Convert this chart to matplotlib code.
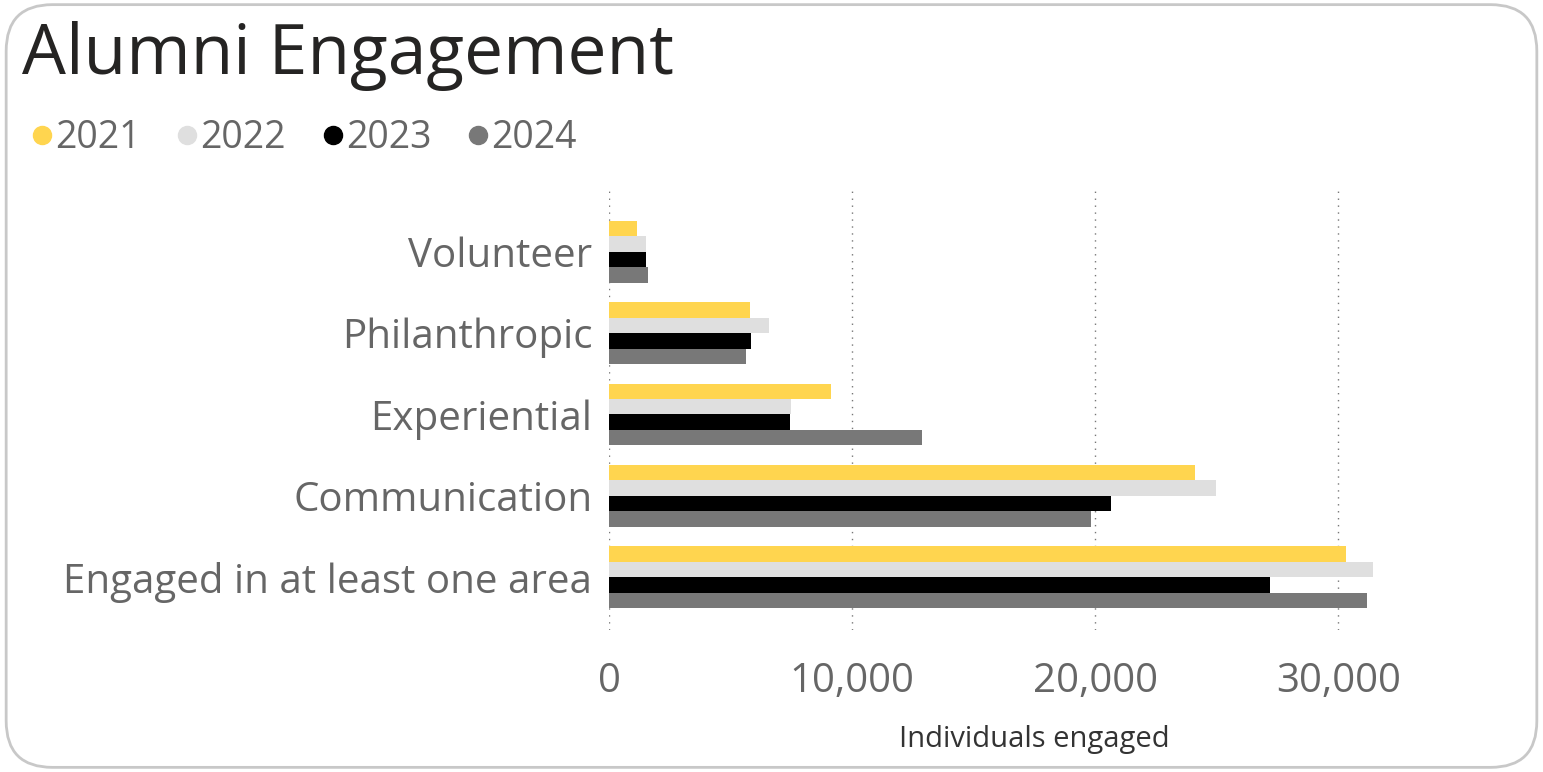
import matplotlib.pyplot as plt
from matplotlib.lines import Line2D
from matplotlib.patches import FancyBboxPatch
from matplotlib.ticker import FuncFormatter
import numpy as np

plt.rcParams['font.family'] = ['Open Sans', 'DejaVu Sans']

# categories, bottom to top
categories = ["Engaged in at least one area", "Communication", "Experiential",
              "Philanthropic", "Volunteer"]
years = ["2021", "2022", "2023", "2024"]
colors = ["#FFD54F", "#DFDFDF", "#000000", "#787878"]

# values per year, same order as categories
v2021 = [30320, 24100, 9130, 5800, 1150]
v2022 = [31430, 24970, 7490, 6580, 1520]
v2023 = [27190, 20650, 7450, 5840, 1520]
v2024 = [31180, 19830, 12880, 5640, 1600]
series = [v2021, v2022, v2023, v2024]

fig = plt.figure(figsize=(15.43, 7.72), dpi=100)

# rounded card border
card = FancyBboxPatch((0.004, 0.006), 0.992, 0.988,
                      boxstyle="round,pad=0,rounding_size=0.03",
                      transform=fig.transFigure, facecolor="white",
                      edgecolor="#C8C8C8", linewidth=2, zorder=-1,
                      mutation_aspect=2.0)
fig.patches.append(card)

ax = fig.add_axes([609 / 1543, 1 - 630 / 772, (1460 - 609) / 1543, 440 / 772])
ax.set_facecolor("none")

y = np.arange(len(categories))
h = 0.19
for i, (vals, col, yr) in enumerate(zip(series, colors, years)):
    # 2021 on top of each group
    ax.barh(y + (1.5 - i) * h, vals, height=h, color=col, label=yr, zorder=2)

ax.set_xlim(0, 35000)
ax.set_ylim(-0.65, 4.76)
ax.set_xticks([0, 10000, 20000, 30000])
ax.xaxis.set_major_formatter(FuncFormatter(lambda v, p: f"{int(v):,}"))
ax.set_yticks(y)
ax.set_yticklabels(categories)
ax.tick_params(axis="both", length=0, labelsize=29, labelcolor="#666666")
ax.tick_params(axis="x", pad=23)
ax.tick_params(axis="y", pad=12)
for s in ax.spines.values():
    s.set_visible(False)
ax.grid(axis="x", linestyle=(0, (1, 4)), color="#777777", linewidth=1, zorder=0)

ax.set_xlabel("Individuals engaged", fontsize=21, color="#333333", labelpad=16)

fig.text(22 / 1543, 1 - 74 / 772, "Alumni Engagement", fontsize=50,
         color="#252423", va="baseline")

handles = [Line2D([], [], marker="o", linestyle="", markersize=13,
                  markerfacecolor=c, markeredgecolor=c) for c in colors]
fig.legend(handles, years, loc="upper left", bbox_to_anchor=(8 / 1543, 1 - 104 / 772),
           ncol=4, frameon=False, fontsize=27, labelcolor="#666666",
           handletextpad=-0.15, columnspacing=0.75, handlelength=1.0,
           borderaxespad=0)

fig.savefig("out.png", dpi=100)
